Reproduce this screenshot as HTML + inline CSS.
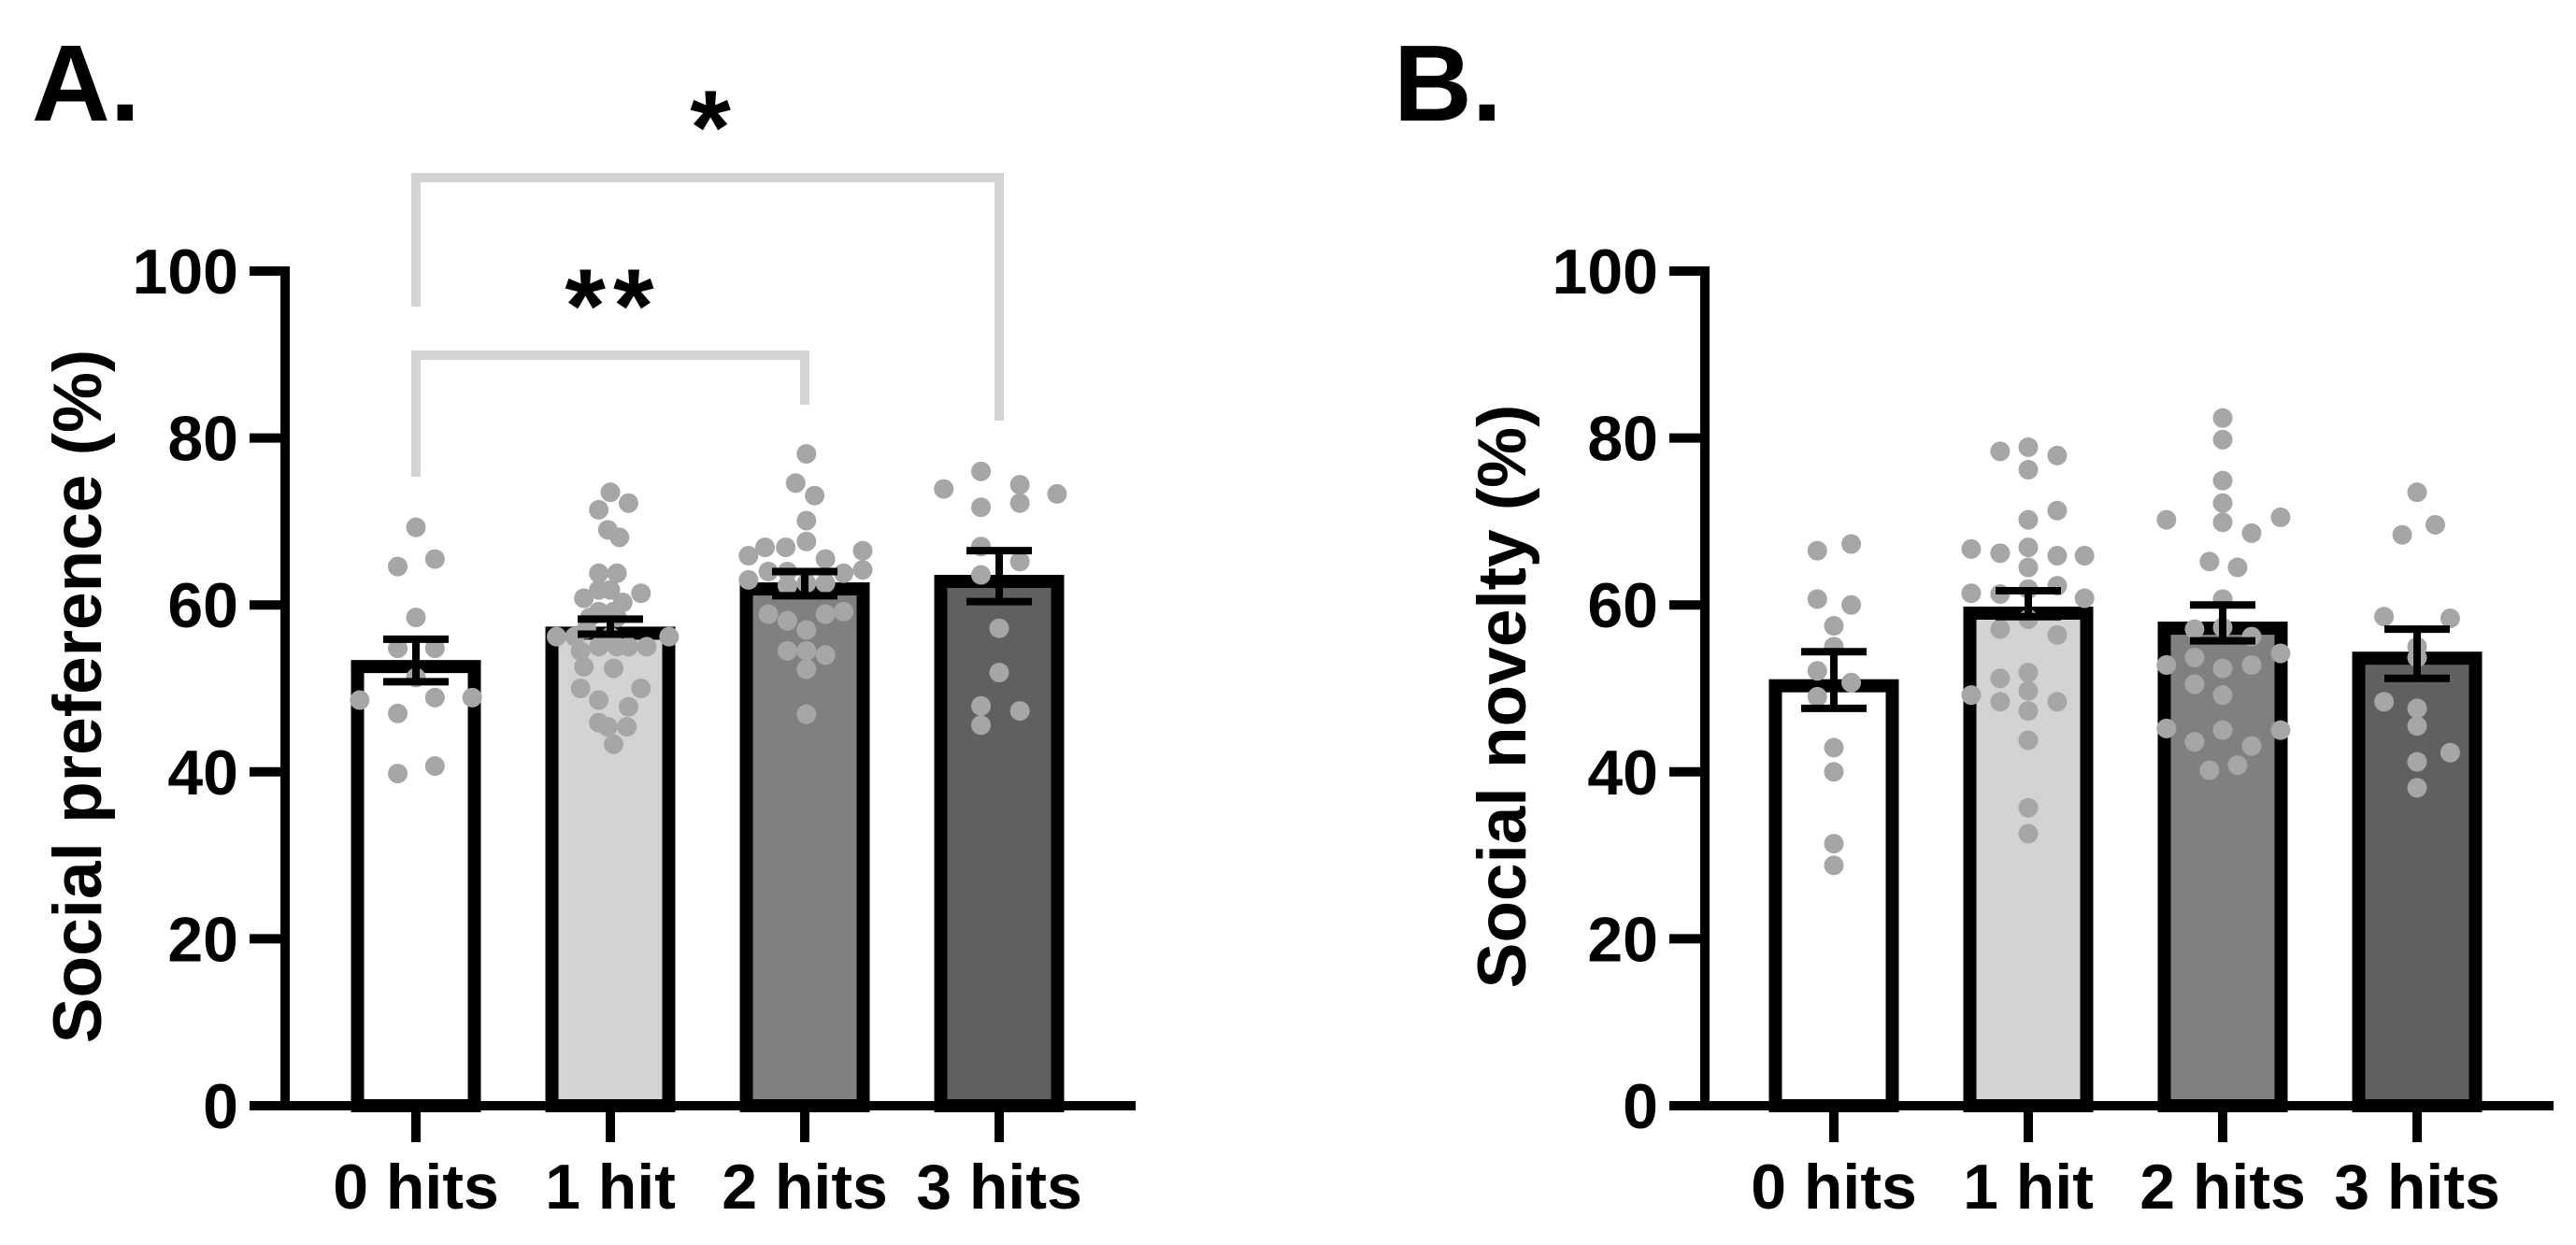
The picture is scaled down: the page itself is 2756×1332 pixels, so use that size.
<!DOCTYPE html>
<html><head><meta charset="utf-8"><style>
html,body{margin:0;padding:0;background:#fff;}
svg{display:block;font-family:"Liberation Sans",Arial,sans-serif;font-weight:bold;}
</style></head><body>
<svg id="fig" width="2756" height="1332" viewBox="0 0 2756 1332" xmlns="http://www.w3.org/2000/svg">
<text x="34" y="129" font-size="116">A.</text>
<text x="1491" y="129" font-size="116">B.</text>
<g fill="none" stroke="#d3d3d3" stroke-width="10">
<polyline points="445,328 445,190 1069,190 1069,450"/>
<polyline points="445,510 445,380 861,380 861,433"/>
</g>
<text x="760" y="175" font-size="112" text-anchor="middle">*</text>
<text x="656" y="366" font-size="112" text-anchor="middle" letter-spacing="8">**</text>
</svg>
<script>
// shared
const categories = ["0 hits", "1 hit", "2 hits", "3 hits"];
const yTicks = [0, 20, 40, 60, 80, 100];
const barFills = ["#ffffff", "#d3d3d3", "#808080", "#606060"];

// Panel A data
const meansA = [53.4, 57.4, 62.7, 63.6];
const errHiA = [55.9, 58.3, 64.0, 66.5];
const errLoA = [50.8, 56.5, 61.1, 60.4];
const dotsA0 = [69.3,64.6,65.5,58.5,54.8,54.8,51.3,48.6,48.9,48.9,47.0,39.8,40.7];
const jitA0 = [0,-22,23,0,-22,23,0,-68,23,68,-22,-22,23];
const dotsA1 = [73.5,72.2,71.4,69.0,68.1,63.8,63.8,60.8,61.8,61.8,61.4,60.3,59.2,59.2,58.5,58.5,57.1,56.2,56.2,56.2,56.2,55.0,55.0,55.0,54.5,55.0,52.6,52.4,50.0,50.0,48.6,47.8,45.9,45.4,45.4,43.3];
const jitA1 = [0,22,-14,-3,11,-14,8,-32,-14,0,37,15,-14,4,-25,8,-29,-65,0,71,-43,-14,8,22,-36,44,-32,4,-36,37,-14,22,-14,-3,20,4];
const dotsA2 = [78.1,74.6,73.1,70.1,66.9,66.9,67.6,65.9,66.5,65.5,64.0,64.0,63.8,63.0,64.2,62.3,62.6,62.6,58.9,59.2,58.1,58.9,57.0,54.5,54.5,54.0,52.3,46.9];
const jitA2 = [2,-11,12,2,-23,-48,2,-68,70,25,-44,-21,47,-68,70,-21,2,25,-44,47,-21,25,2,-21,2,25,2,2];
const dotsA3 = [73.9,76.0,74.4,71.7,72.2,73.3,67.0,65.2,63.6,57.2,51.9,47.9,47.3,45.6];
const jitA3 = [-67,-22,25,-22,25,70,-22,25,-22,0,0,-22,25,-22];

// Panel B data
const meansB = [51.1, 59.8, 58.0, 54.4];
const errHiB = [54.4, 61.7, 60.0, 57.1];
const errLoB = [47.6, 58.6, 55.7, 51.2];
const dotsB0 = [66.5,67.3,60.7,60.0,57.5,55.0,52.1,50.7,49.0,42.9,40.0,31.4,28.8];
const jitB0 = [-20,21,-20,21,0,0,-20,21,-20,0,0,0,0];
const dotsB1 = [78.4,78.9,77.9,76.2,71.3,70.2,66.7,66.2,66.9,65.9,65.9,64.5,61.4,61.3,61.9,62.3,60.8,58.3,57.1,56.4,51.9,51.2,49.7,49.2,48.4,48.4,47.3,43.8,35.7,32.6];
const jitB1 = [-34,0,35,0,35,0,-69,-34,0,35,68,0,-69,-34,0,35,68,0,-34,35,0,-34,0,-69,-34,35,0,0,0,0];
const dotsB2 = [82.4,79.8,74.9,72.2,69.9,70.2,70.5,68.6,65.2,64.5,60.7,57.1,57.3,56.2,52.8,53.7,54.2,52.4,52.8,50.5,49.2,45.2,45.0,45.0,43.6,43.1,40.2,40.8];
const jitB2 = [0,0,0,0,0,-68,70,35,-16,18,0,-34,0,35,-68,-34,70,0,35,-34,0,-68,0,70,-34,35,-16,18];
const dotsB3 = [73.5,68.4,69.6,58.6,58.4,55.0,53.7,48.4,47.6,45.5,41.2,42.3,38.1];
const jitB3 = [0,-18,22,-40,40,0,0,-40,0,0,0,40,0];

const NS = "http://www.w3.org/2000/svg";
const svg = document.getElementById("fig");
function mk(tag, attrs, parent) {
  const e = document.createElementNS(NS, tag);
  for (const k in attrs) e.setAttribute(k, attrs[k]);
  (parent || svg).appendChild(e);
  return e;
}

function drawPanel(p) {
  const y0 = 1183, y100 = 290;
  const yScale = v => y0 - (v / 100) * (y0 - y100);
  const xScale = i => p.x0 + i * 208;
  const g = mk("g", {});
  
  

  p.means.forEach((m, i) => {
    const cx = xScale(i), top = yScale(m);
    const r = mk("rect", {x: cx - 62.5, y: top + 7, width: 125, height: y0 - top - 7, fill: barFills[i], stroke: "#000", "stroke-width": 14}, g);
    
    
  });
  p.dots.forEach((arr, i) => {
    arr.forEach((v, j) => {
      const c = mk("circle", {cx: xScale(i) + p.jit[i][j] / 1.13, cy: yScale(v), r: 10.5, fill: "#a6a6a8"}, g);
      
      
    });
  });
  p.means.forEach((m, i) => {
    const cx = xScale(i);
    const eg = mk("g", {stroke: "#000", "stroke-width": 8, fill: "none"}, g);
    
    
    mk("line", {x1: cx, x2: cx, y1: yScale(p.hi[i]), y2: yScale(p.lo[i])}, eg);
    mk("line", {x1: cx - 35, x2: cx + 35, y1: yScale(p.hi[i]), y2: yScale(p.hi[i])}, eg);
    mk("line", {x1: cx - 35, x2: cx + 35, y1: yScale(p.lo[i]), y2: yScale(p.lo[i])}, eg);
  });
  const ya = mk("line", {x1: p.ax, x2: p.ax, y1: y100 - 5, y2: y0 + 5, stroke: "#000", "stroke-width": 10}, g);
  
  
  const xa = mk("line", {x1: p.ax - 38, x2: p.xEnd, y1: y0, y2: y0, stroke: "#000", "stroke-width": 10}, g);
  
  
  yTicks.forEach(t => {
    const y = yScale(t);
    mk("line", {x1: p.ax - 38, x2: p.ax, y1: y, y2: y, stroke: "#000", "stroke-width": 10}, g);
    const tx = mk("text", {x: p.ax - 50, y: y + 24, "font-size": 68, "text-anchor": "end"}, g);
    tx.textContent = t;
    
    
  });
  categories.forEach((c, i) => {
    const x = xScale(i);
    mk("line", {x1: x, x2: x, y1: y0, y2: y0 + 39, stroke: "#000", "stroke-width": 10}, g);
    const tx = mk("text", {x: x, y: 1293, "font-size": 68, "text-anchor": "middle"}, g);
    tx.textContent = c;
    
    
  });
  const tt = mk("text", {x: 0, y: 0, "font-size": 73, "text-anchor": "middle", transform: "translate(" + (p.titleX + 26) + ",745) rotate(-90)"}, g);
  tt.textContent = p.title;
  
  
}

drawPanel({id: "panel-a", x0: 445, ax: 305, xEnd: 1215, titleX: 82, title: "Social preference (%)",
  means: meansA, hi: errHiA, lo: errLoA, dots: [dotsA0, dotsA1, dotsA2, dotsA3], jit: [jitA0, jitA1, jitA2, jitA3]});
drawPanel({id: "panel-b", x0: 1962, ax: 1824, xEnd: 2732, titleX: 1606, title: "Social novelty (%)",
  means: meansB, hi: errHiB, lo: errLoB, dots: [dotsB0, dotsB1, dotsB2, dotsB3], jit: [jitB0, jitB1, jitB2, jitB3]});
</script>
</body></html>
